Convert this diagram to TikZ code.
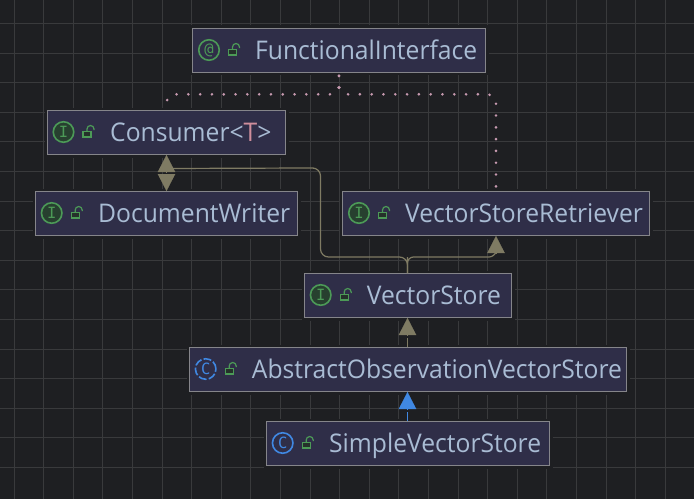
\documentclass[tikz,border=0pt]{standalone}
\usepackage{fontspec}
\usetikzlibrary{arrows.meta,calc}
\setmainfont{Open Sans}[FakeStretch=0.96]
\newfontfamily\iconfont{DejaVu Sans Mono}
\definecolor{bgc}{HTML}{1E1F22}
\definecolor{gridc}{HTML}{393A3C}
\definecolor{boxc}{HTML}{2F2E48}
\definecolor{edgec}{HTML}{85858A}
\definecolor{textc}{HTML}{A9BCD4}
\definecolor{tparam}{HTML}{CF8E9C}
\definecolor{olivec}{HTML}{7F7B63}
\definecolor{pinkc}{HTML}{C79AB0}
\definecolor{bluec}{HTML}{4088E2}
\definecolor{greenc}{HTML}{4C9A57}
\definecolor{ifill}{HTML}{27402F}
\tikzset{
  cbox/.style={draw=edgec,fill=boxc,line width=1pt,inner sep=0pt,
    preaction={draw=bgc,line width=6pt}},
  lbl/.style={anchor=base west,inner sep=0pt,text=textc,font=\fontsize{25.7}{30}\selectfont},
  iface/.style={circle,draw=greenc,fill=ifill,line width=1.6pt,minimum size=20.5pt,inner sep=0pt,
    text=greenc,font=\iconfont\fontsize{15.5}{15.5}\selectfont},
  annot/.style={iface,fill=none},
  klass/.style={iface,draw=bluec,fill=none,text=bluec},
  aklass/.style={klass,dash pattern=on 8pt off 2.2pt},
  conn/.style={draw=olivec,line width=1.2pt,rounded corners=8pt},
  head/.style={draw=#1,line width=0.1pt,-{Triangle[length=17pt,width=17.5pt,fill=#1]}},
  bconn/.style={draw=bluec,line width=1.2pt},
  dots/.style={draw=pinkc,line width=2.9pt,line cap=round,dash pattern=on 0pt off 11.8pt,rounded corners=9pt},
  lockicon/.pic={
    \draw[greenc,line width=1.2pt,fill=greenc!15!bgc] (-5.5,-0.5) rectangle (2.5,5);
    \draw[greenc,line width=1.2pt] (-1.5,-0.5) -- (-1.5,-3) arc[start angle=180,end angle=0,x radius=3.5,y radius=-3.5] -- (5.5,-2);
  }
}
\begin{document}
\begin{tikzpicture}[x=1pt,y=-1pt]
\useasboundingbox (0,0) rectangle (694,499);
\fill[bgc] (0,0) rectangle (694,499);
\foreach \k in {0,...,22} \draw[gridc,line width=1pt] ({14+29.6*\k},0) -- ({14+29.6*\k},499);
\foreach \k in {0,...,15} \draw[gridc,line width=1pt] (0,{23.5+29.6*\k}) -- (694,{23.5+29.6*\k});

\node[cbox,minimum width=293pt,minimum height=44pt] (fi) at (339,50.3) {};
\node[cbox,minimum width=238pt,minimum height=44pt] (con) at (166.5,132.5) {};
\node[cbox,minimum width=262pt,minimum height=44pt] (dw) at (166.5,213.5) {};
\node[cbox,minimum width=307pt,minimum height=44pt] (vsr) at (496,213.5) {};
\node[cbox,minimum width=207pt,minimum height=44pt] (vs) at (408,295.5) {};
\node[cbox,minimum width=437pt,minimum height=44pt] (aovs) at (408,369.5) {};
\node[cbox,minimum width=283pt,minimum height=44pt] (svs) at (408,443.5) {};

% dotted connectors
\draw[dots] ($(fi.south)+(0,3)$) -- ++(0,18.5) -| (con.north);
\draw[dots] ($(fi.south)+(0,3)$) -- ++(0,18.5) -| (vsr.north);

% VectorStore to its two parents
\path (con.south) ++(0,17) coordinate (ctip);
\path (dw.north) ++(0,-17) coordinate (dtip);
\draw[conn] (vs.north) ++(-0.5,0) -- ++(0,-8) |- ++(-87,-8) |- ++(-15,-89) -- (con.south |- 0,168.5);
\draw[conn,rounded corners=6pt] (vs.north) ++(-0.5,0) -- ++(0,-8) |- ++(87.5,-8) -- (vsr.south |- 0,252);
\draw[head=olivec] (ctip) -- (con.south);
\draw[head=olivec] (dtip) -- (dw.north);
\draw[head=olivec] ($(vsr.south)+(0,17)$) -- (vsr.south);

\draw[conn] ($(aovs.north)+(-0.5,0)$) -- ($(vs.south)+(-0.5,19.5)$);
\draw[head=olivec] ($(vs.south)+(-0.5,17)$) -- ($(vs.south)+(-0.5,0)$);
\draw[bconn] ($(svs.north)+(-0.5,0)$) -- ($(aovs.south)+(-0.5,19.5)$);
\draw[head=bluec] ($(aovs.south)+(-0.5,17)$) -- ($(aovs.south)+(-0.5,0)$);

% icons
\node[annot] (fii) at (209,50) {@};
\pic at (234,50) {lockicon};
\node[iface] (coni) at (63.5,132) {I};
\pic at (88.5,132) {lockicon};
\node[iface] (dwi) at (51.7,213) {I};
\pic at (76.7,213) {lockicon};
\node[iface] (vsri) at (359,213) {I};
\pic at (384,213) {lockicon};
\node[iface] (vsi) at (320.7,295) {I};
\pic at (345.7,295) {lockicon};
\node[aklass] (aovsi) at (205.7,369) {C};
\pic at (230.7,369) {lockicon};
\node[klass] (svsi) at (282.7,443) {C};
\pic at (307.7,443) {lockicon};

% labels
\node[lbl] (fit) at (255,59) {FunctionalInterface};
\node[lbl] (cont) at (110,141) {Consumer<\textcolor{tparam}{T}>};
\node[lbl] (dwt) at (98,222) {DocumentWriter};
\node[lbl] (vsrt) at (405,222) {VectorStoreRetriever};
\node[lbl] (vst) at (366.7,304) {VectorStore};
\node[lbl] (aovst) at (251.7,378) {AbstractObservationVectorStore};
\node[lbl] (svst) at (329,452) {SimpleVectorStore};
\end{tikzpicture}
\end{document}
